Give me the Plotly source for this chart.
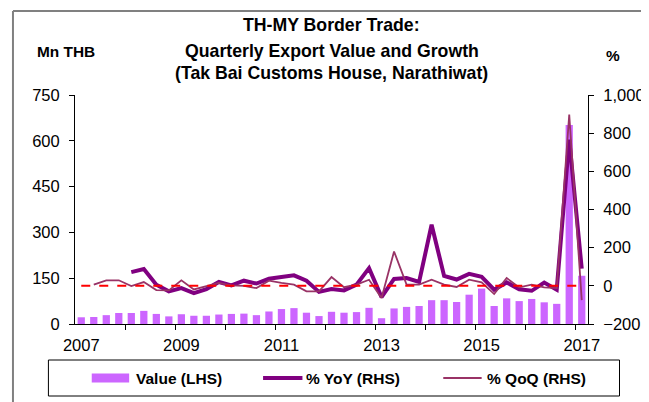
import plotly.graph_objects as go

# quarters 2007Q1 .. 2017Q1
quarters = [f"{y}Q{q}" for y in range(2007, 2018) for q in range(1, 5)][:41]
xpos = list(range(len(quarters)))

value_lhs = [22, 23, 29, 36, 36, 43, 33, 25, 32, 27, 27, 31, 33, 34, 29,
             41, 49, 52, 37, 26, 40, 37, 39, 53, 19, 51, 56, 59, 78, 78,
             72, 96, 116, 59, 84, 75, 82, 71, 66, 652, 158]

yoy_rhs = [None, None, None, None, 72, 88, 6, -29, -12, -38, -17, 20, 2, 27, 12,
           37, 46, 55, 27, -32, -17, -24, 6, 93, -59, 36, 41, 20, 320, 52,
           33, 63, 47, -20, 18, -18, -26, 17, -20, 766, 90]

qoq_rhs = [None, 6, 29, 29, -1, 20, -22, -24, 29, -19, -3, 15, 2, 0, -12,
           27, 15, 6, -29, -29, 46, -7, 6, 32, -64, 180, 6, 6, 32, 6,
           -6, 32, 18, -43, 41, -8, 6, -8, -12, 897, -75]

zero_rhs = [0] * len(quarters)

year_pos = [0, 8, 16, 24, 32, 40]
year_labels = ["2007", "2009", "2011", "2013", "2015", "2017"]

W, H = 649, 402
L, R, T, B = 67, 588, 87, 316
FONT = "Liberation Sans, Arial, sans-serif"
BAR_C, YOY_C, QOQ_C = "#CC66FF", "#800080", "#993366"


def px(x):
    return (x - L) / (R - L)


def py(y):
    return (B - y) / (B - T)


fig = go.Figure()
fig.add_trace(go.Bar(x=xpos, y=value_lhs, name="Value (LHS)",
                     marker=dict(color=BAR_C, line=dict(width=0))))
fig.add_trace(go.Scatter(x=xpos, y=yoy_rhs, name="% YoY (RHS)", yaxis="y2", mode="lines",
                         line=dict(color=YOY_C, width=4)))
fig.add_trace(go.Scatter(x=xpos, y=qoq_rhs, name="% QoQ (RHS)", yaxis="y2", mode="lines",
                         line=dict(color=QOQ_C, width=1.8)))
fig.add_trace(go.Scatter(x=xpos, y=zero_rhs, yaxis="y2", mode="lines",
                         line=dict(color="#FF0000", width=2, dash="dash")))

title_lines = ["TH-MY Border Trade:", "Quarterly Export Value and Growth",
               "(Tak Bai Customs House, Narathiwat)"]
annos = []
for txt, yy in zip(title_lines, [17, 43, 65]):
    annos.append(dict(text=f"<b>{txt}</b>", x=0.5, y=py(yy), xref="paper", yref="paper",
                      showarrow=False, font=dict(size=17.7, color="black", family=FONT),
                      xanchor="center", yanchor="middle"))
annos.append(dict(text="<b>Mn THB</b>", x=px(26), y=py(43), xref="paper", yref="paper",
                  showarrow=False, xanchor="left", yanchor="middle",
                  font=dict(size=15.4, color="black", family=FONT)))
annos.append(dict(text="<b>%</b>", x=px(613), y=py(47), xref="paper", yref="paper",
                  showarrow=False, xanchor="center", yanchor="middle",
                  font=dict(size=15.4, color="black", family=FONT)))

shapes = [
    # outer frame (cropped at right and bottom)
    dict(type="line", xref="paper", yref="paper", line=dict(color="#808080", width=2),
         x0=px(4), x1=px(649), y0=py(3), y1=py(3)),
    dict(type="line", xref="paper", yref="paper", line=dict(color="#808080", width=2),
         x0=px(4), x1=px(4), y0=py(3), y1=py(402)),
    # legend box
    dict(type="rect", xref="paper", yref="paper", x0=px(40), x1=px(620), y0=py(388), y1=py(352),
         line=dict(color="black", width=1), fillcolor="rgba(0,0,0,0)"),
]

# hand-made legend (swatch + label) to mimic the Excel-style legend row
legend_items = [("Value (LHS)", 84, 122, 127, "bar", BAR_C, 9),
                ("% YoY (RHS)", 258, 298, 300, "line", YOY_C, 4),
                ("% QoQ (RHS)", 441, 480, 483, "line", QOQ_C, 1.8)]
LEG_Y = 370
for label, sx0, sx1, tx, kind, col, w in legend_items:
    if kind == "bar":
        shapes.append(dict(type="rect", xref="paper", yref="paper", x0=px(sx0), x1=px(sx1),
                           y0=py(LEG_Y + 4.5), y1=py(LEG_Y - 4.5), fillcolor=col,
                           line=dict(width=0)))
    else:
        shapes.append(dict(type="line", xref="paper", yref="paper", x0=px(sx0), x1=px(sx1),
                           y0=py(LEG_Y), y1=py(LEG_Y), line=dict(color=col, width=w)))
    annos.append(dict(text=f"<b>{label}</b>", x=px(tx), y=py(LEG_Y), xref="paper",
                      yref="paper", showarrow=False, xanchor="left", yanchor="middle",
                      font=dict(size=15.5, color="black", family=FONT)))

fig.update_layout(
    width=W, height=H,
    margin=dict(l=L, r=W - R, t=T, b=H - B),
    paper_bgcolor="white", plot_bgcolor="white",
    font=dict(family=FONT, size=16.5, color="black"),
    bargap=0.42,
    showlegend=False,
    annotations=annos,
    shapes=shapes,
    xaxis=dict(range=[-0.5, 40.5], tickmode="array", tickvals=year_pos, ticktext=year_labels,
               ticks="", showline=True, linecolor="black", linewidth=1, showgrid=False,
               zeroline=False, ticklabelstandoff=6,
               minor=dict(tickmode="array", tickvals=[i + 3.5 for i in range(0, 40, 4)],
                          ticks="outside", ticklen=5, tickcolor="black", showgrid=False)),
    yaxis=dict(range=[0, 750], tickmode="array", tickvals=[0, 150, 300, 450, 600, 750],
               ticks="outside", ticklen=5, tickcolor="black", showline=True, linecolor="black",
               showgrid=False, zeroline=False, ticklabelstandoff=6),
    yaxis2=dict(range=[-200, 1000], overlaying="y", side="right", tickmode="array",
                tickvals=[-200, 0, 200, 400, 600, 800, 1000], tickformat=",d",
                ticks="outside", ticklen=5, tickcolor="black", showline=True, linecolor="black",
                showgrid=False, zeroline=False, ticklabelstandoff=6),
)

fig.write_html("out.html")
